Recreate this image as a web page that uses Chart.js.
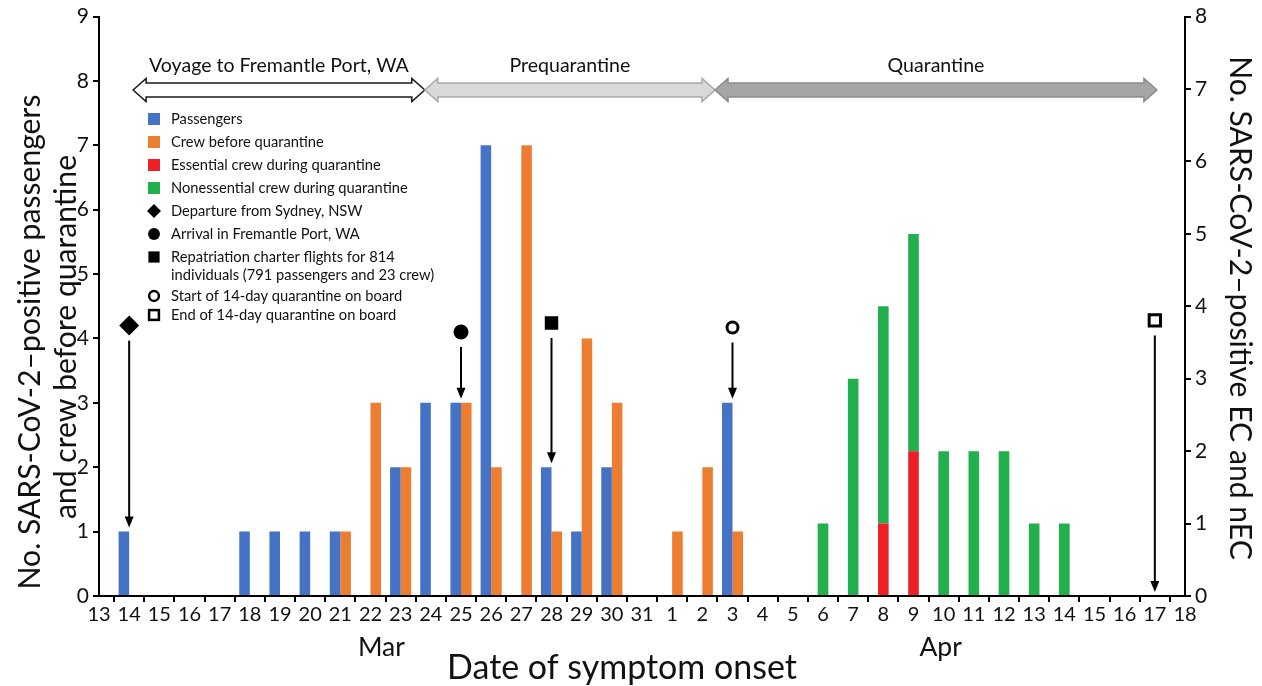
<!DOCTYPE html>
<html><head><meta charset="utf-8">
<script src="https://cdn.jsdelivr.net/npm/chart.js@4/dist/chart.umd.min.js"></script>
<style>html,body{margin:0;padding:0;background:#fff}#wrap{width:1262px;height:686px;position:relative}</style>
</head><body><div id="wrap"><canvas id="c" width="1262" height="686"></canvas></div>
<script>
// ---- data ----
const dates = ['Mar 13','Mar 14','Mar 15','Mar 16','Mar 17','Mar 18','Mar 19','Mar 20','Mar 21','Mar 22','Mar 23','Mar 24','Mar 25','Mar 26','Mar 27','Mar 28','Mar 29','Mar 30','Mar 31',
  'Apr 1','Apr 2','Apr 3','Apr 4','Apr 5','Apr 6','Apr 7','Apr 8','Apr 9','Apr 10','Apr 11','Apr 12','Apr 13','Apr 14','Apr 15','Apr 16','Apr 17','Apr 18'];
const tickLabels = ['13','14','15','16','17','18','19','20','21','22','23','24','25','26','27','28','29','30','31',
  '1','2','3','4','5','6','7','8','9','10','11','12','13','14','15','16','17','18'];
const passengers       = [0,1,0,0,0,1,1,1,1,0,2,3,3,7,0,2,1,2,0, 0,0,3,0,0,0,0,0,0,0,0,0,0,0,0,0,0,0];
const crewBefore       = [0,0,0,0,0,0,0,0,1,3,2,0,3,2,7,1,4,3,0, 1,2,1,0,0,0,0,0,0,0,0,0,0,0,0,0,0,0];
const essentialCrew    = [0,0,0,0,0,0,0,0,0,0,0,0,0,0,0,0,0,0,0, 0,0,0,0,0,0,0,1,2,0,0,0,0,0,0,0,0,0];
const nonessentialCrew = [0,0,0,0,0,0,0,0,0,0,0,0,0,0,0,0,0,0,0, 0,0,0,0,0,1,3,3,3,2,2,2,1,1,0,0,0,0];
const leftTicks = [0,1,2,3,4,5,6,7,8,9];
const rightTicks = [0,1,2,3,4,5,6,7,8];

const eventLabels = ['Departure from Sydney, NSW','Arrival in Fremantle Port, WA','Repatriation charter flights for 814|individuals (791 passengers and 23 crew)','Start of 14-day quarantine on board','End of 14-day quarantine on board'];
const eventDates  = ['Mar 14','Mar 25','Mar 28','Apr 3','Apr 17'];
const eventLevel  = [4.2, 4.1, 4.24, 4.17, 4.28];
const eventArrowTo = [1, 3, 2, 3, 0];

const phaseLabels = ['Voyage to Fremantle Port, WA','Prequarantine','Quarantine'];
const phaseStart  = [1.13, 10.8, 20.42];   // position on date axis (index units)
const phaseEnd    = [10.8, 20.42, 35.07];

const monthLabels = ['Mar','Apr'];
const monthPos    = [9.36, 27.9];

// ---- styles ----
const BLUE='#4472C4', ORANGE='#ED7D31', RED='#EE1F26', GREEN='#22AF4D';
const FONT='Lato';

function fitSize(ctx, text, w, weight){
  ctx.font = (weight||'') + ' 100px ' + FONT;
  return 100 * w / ctx.measureText(text).width;
}

function drawMarker(ctx, kind, x, y, s){
  ctx.save();
  ctx.fillStyle='#000'; ctx.strokeStyle='#000';
  if(kind==='diamond'){ ctx.beginPath(); ctx.moveTo(x,y-s); ctx.lineTo(x+s,y); ctx.lineTo(x,y+s); ctx.lineTo(x-s,y); ctx.closePath(); ctx.fill(); }
  else if(kind==='circle'){ ctx.beginPath(); ctx.arc(x,y,s*0.85,0,Math.PI*2); ctx.fill(); }
  else if(kind==='square'){ ctx.fillRect(x-s*0.8,y-s*0.8,s*1.6,s*1.6); }
  else if(kind==='ocircle'){ ctx.lineWidth=2.5; ctx.fillStyle='#fff'; ctx.beginPath(); ctx.arc(x,y,s*0.7,0,Math.PI*2); ctx.fill(); ctx.stroke(); }
  else if(kind==='osquare'){ ctx.lineWidth=2.5; ctx.fillStyle='#fff'; ctx.fillRect(x-s*0.7,y-s*0.7,s*1.4,s*1.4); ctx.strokeRect(x-s*0.7,y-s*0.7,s*1.4,s*1.4); }
  ctx.restore();
}

const overlay = {
  id:'overlay',
  afterDraw(chart){
    const ctx = chart.ctx, xs = chart.scales.x, ys = chart.scales.y;
    ctx.save();
    // phase arrows
    const fills = ['#ffffff','#d9d9d9','#a6a6a6'], strokes=['#1a1a1a','#a8a8a8','#8c8c8c'];
    const yc = 90, sh = 7, hh = 11.5, hl = 13;
    const pfs = fitSize(ctx, phaseLabels[0], 260);
    for(let i=0;i<phaseLabels.length;i++){
      const x1 = xs.getPixelForValue(phaseStart[i]), x2 = xs.getPixelForValue(phaseEnd[i]);
      ctx.beginPath();
      ctx.moveTo(x1, yc); ctx.lineTo(x1+hl, yc-hh); ctx.lineTo(x1+hl, yc-sh); ctx.lineTo(x2-hl, yc-sh);
      ctx.lineTo(x2-hl, yc-hh); ctx.lineTo(x2, yc); ctx.lineTo(x2-hl, yc+hh); ctx.lineTo(x2-hl, yc+sh);
      ctx.lineTo(x1+hl, yc+sh); ctx.lineTo(x1+hl, yc+hh); ctx.closePath();
      ctx.fillStyle = fills[i]; ctx.fill();
      ctx.lineWidth = 1.5; ctx.strokeStyle = strokes[i]; ctx.stroke();
      ctx.fillStyle='#111'; ctx.font = pfs+'px '+FONT; ctx.textAlign='center'; ctx.textBaseline='middle';
      ctx.fillText(phaseLabels[i], (x1+x2)/2, 66);
    }
    // event arrows
    for(let i=0;i<eventDates.length;i++){
      const x = xs.getPixelForValue(dates.indexOf(eventDates[i]));
      const y1 = ys.getPixelForValue(eventLevel[i]) + 15;
      const y2 = ys.getPixelForValue(eventArrowTo[i]) - 4;
      ctx.strokeStyle='#000'; ctx.fillStyle='#000'; ctx.lineWidth=2;
      ctx.beginPath(); ctx.moveTo(x,y1); ctx.lineTo(x,y2-9); ctx.stroke();
      ctx.beginPath(); ctx.moveTo(x-4.5,y2-11); ctx.lineTo(x+4.5,y2-11); ctx.lineTo(x,y2); ctx.closePath(); ctx.fill();
    }
    // legend
    const lfs = fitSize(ctx, 'Nonessential crew during quarantine', 237);
    ctx.font = lfs+'px '+FONT; ctx.textAlign='left'; ctx.textBaseline='middle'; 
    const items = [
      {t:'Passengers', c:BLUE, y:119},{t:'Crew before quarantine', c:ORANGE, y:142},
      {t:'Essential crew during quarantine', c:RED, y:165},{t:'Nonessential crew during quarantine', c:GREEN, y:188},
      {t:eventLabels[0], m:'diamond', y:211},{t:eventLabels[1], m:'circle', y:234},
      {t:eventLabels[2], m:'square', y:257},{t:eventLabels[3], m:'ocircle', y:296},{t:eventLabels[4], m:'osquare', y:315}
    ];
    for(const it of items){
      if(it.c){ ctx.fillStyle=it.c; ctx.fillRect(148, it.y-6, 12, 12); }
      else drawMarker(ctx, it.m, 154, it.y, 7);
      ctx.fillStyle='#111';
      const lines = it.t.split('|');
      lines.forEach((l,k)=>ctx.fillText(l, 171, it.y + k*18));
    }
    // axis titles
    ctx.fillStyle='#111'; ctx.textAlign='center'; ctx.textBaseline='middle';
    const t1='No. SARS-CoV-2\u2013positive passengers', t2='and crew before quarantine', t3='No. SARS-CoV-2\u2013positive EC and nEC';
    const afs = fitSize(ctx, t1, 495);
    ctx.font = afs+'px '+FONT;
    ctx.save(); ctx.translate(30, 342); ctx.rotate(-Math.PI/2); ctx.fillText(t1,0,0); ctx.restore();
    ctx.save(); ctx.translate(66, 337); ctx.rotate(-Math.PI/2); ctx.fillText(t2,0,0); ctx.restore();
    ctx.save(); ctx.translate(1240, 308); ctx.rotate(Math.PI/2); ctx.fillText(t3,0,0); ctx.restore();
    // month labels
    const mfs = fitSize(ctx, 'Mar', 47);
    ctx.font = mfs+'px '+FONT;
    for(let i=0;i<monthLabels.length;i++) ctx.fillText(monthLabels[i], xs.getPixelForValue(monthPos[i]), 647);
    const dfs = fitSize(ctx, 'Date of symptom onset', 350);
    ctx.font = dfs+'px '+FONT;
    ctx.fillText('Date of symptom onset', 622, 668);
    ctx.restore();
  }
};

const markerDs = (i, style, radius, bg, bw) => ({
  type:'line', label: eventLabels[i], data:[{x: eventDates[i], y: eventLevel[i]}], yAxisID:'y',
  showLine:false, pointStyle: style, pointRadius: radius, pointHoverRadius: radius,
  pointBackgroundColor: bg, pointBorderColor:'#000', pointBorderWidth: bw, order:0
});

const axisCommon = {
  grid:{drawOnChartArea:false, drawTicks:true, tickLength:6, color:'#000', lineWidth:2},
  border:{display:true, color:'#000', width:2}
};

new Chart(document.getElementById('c'), {
  data:{
    labels: dates,
    datasets:[
      {type:'bar', label:'Passengers', data:passengers, backgroundColor:BLUE, yAxisID:'y', stack:'p', categoryPercentage:0.7, barPercentage:1.0, order:1},
      {type:'bar', label:'Crew before quarantine', data:crewBefore, backgroundColor:ORANGE, yAxisID:'y', stack:'c', categoryPercentage:0.7, barPercentage:1.0, order:1},
      {type:'bar', label:'Essential crew during quarantine', data:essentialCrew, backgroundColor:RED, yAxisID:'y2', stack:'q', grouped:false, barPercentage:0.44, order:1},
      {type:'bar', label:'Nonessential crew during quarantine', data:nonessentialCrew, backgroundColor:GREEN, yAxisID:'y2', stack:'q', grouped:false, barPercentage:0.44, order:1},
      markerDs(0,'rectRot',10,'#000',0),
      markerDs(1,'circle',7.5,'#000',0),
      markerDs(2,'rect',9.5,'#000',0),
      markerDs(3,'circle',5.5,'#fff',3),
      markerDs(4,'rect',8,'#fff',3)
    ]
  },
  options:{
    responsive:false, animation:false, devicePixelRatio:1,
    layout:{padding:{top:16,left:0,right:0,bottom:0}},
    plugins:{legend:{display:false}, tooltip:{enabled:false}},
    scales:{
      x:{type:'category', offset:false, ...axisCommon,
        ticks:{autoSkip:false, maxRotation:0, minRotation:0, color:'#111', padding:1, font:{family:FONT,size:20},
          callback:(v,i)=>tickLabels[i]},
        afterFit:s=>{s.height=90;}},
      y:{position:'left', min:0, max:9, stacked:false, ...axisCommon,
        ticks:{stepSize:1, color:'#111', padding:4, font:{family:FONT,size:21}, callback:(v)=>leftTicks.includes(v)?String(v):''},
        afterFit:s=>{s.width=99;}},
      y2:{position:'right', min:0, max:8, stacked:true, ...axisCommon,
        ticks:{stepSize:1, color:'#111', padding:4, font:{family:FONT,size:21}, callback:(v)=>rightTicks.includes(v)?String(v):''},
        afterFit:s=>{s.width=77;}}
    }
  },
  plugins:[overlay]
});
</script></body></html>
